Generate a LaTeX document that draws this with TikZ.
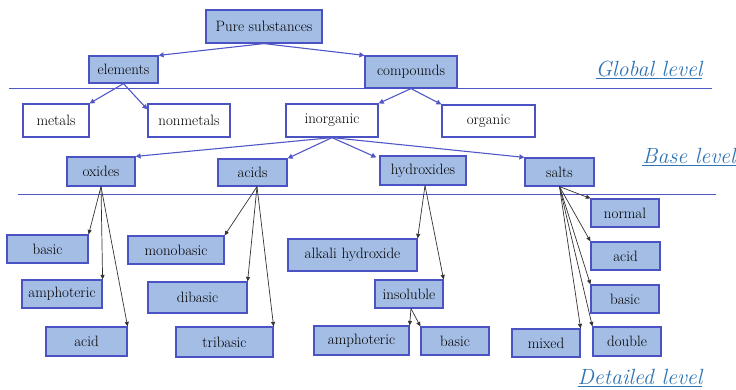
\documentclass[tikz,border=0pt]{standalone}
\usetikzlibrary{arrows.meta}
\definecolor{boxfill}{HTML}{A4BDE4}
\definecolor{boxline}{HTML}{4A52C4}
\definecolor{conn}{HTML}{5257C8}
\definecolor{lvl}{HTML}{2E74B5}
\begin{document}
\begin{tikzpicture}[x=1pt,y=-1pt,
  every node/.style={font=\rmfamily\fontsize{15}{18}\selectfont, inner sep=0pt},
  bbox/.style={draw=boxline, line width=1.2pt, fill=boxfill},
  wbox/.style={draw=boxline, line width=1.2pt, fill=white},
  bconn/.style={draw=conn, line width=1.1pt, -{Triangle[width=5pt,length=5pt]}},
  kconn/.style={draw=black!80, line width=0.7pt, -{Triangle[width=4pt,length=4.5pt]}},
  sep/.style={draw=conn, line width=1pt},
  lvltext/.style={text=lvl, font=\rmfamily\fontsize{22}{26}\selectfont\itshape}
]
\useasboundingbox (0,0) rectangle (736,389);
% separator lines
\coordinate (g1) at (9,88); \coordinate (g2) at (712,88);
\coordinate (b1) at (18,194); \coordinate (b2) at (716,194);
\draw[sep] (g1) -- (g2);
\draw[sep] (b1) -- (b2);
% level labels
\node[lvltext] (glob) at (649,70) {\underline{Global level}};
\node[lvltext] (base) at (689,157) {\underline{Base level}};
\node[lvltext] (det) at (640,378) {\underline{Detailed level}};
% boxes
\node[bbox, minimum width=116pt, minimum height=33pt] (pure) at (264,26.5) {Pure substances};
\node[bbox, minimum width=69pt, minimum height=27pt] (elem) at (123.5,69.5) {elements};
\node[bbox, minimum width=92pt, minimum height=32pt] (comp) at (411,72) {compounds};
\node[wbox, minimum width=66pt, minimum height=33pt] (metals) at (56,120.5) {metals};
\node[wbox, minimum width=82pt, minimum height=33pt] (nonmet) at (189,120.5) {nonmetals};
\node[wbox, minimum width=92pt, minimum height=33pt] (inorg) at (332,120.5) {inorganic};
\node[wbox, minimum width=93pt, minimum height=32pt] (org) at (488.5,121) {organic};
\node[bbox, minimum width=68pt, minimum height=29pt] (oxides) at (101,171.5) {oxides};
\node[bbox, minimum width=69pt, minimum height=27pt] (acids) at (252.5,172.5) {acids};
\node[bbox, minimum width=86pt, minimum height=29pt] (hydr) at (423,170.5) {hydroxides};
\node[bbox, minimum width=69pt, minimum height=28pt] (salts) at (559.5,172) {salts};
\node[bbox, minimum width=81pt, minimum height=28pt] (obasic) at (47.5,249) {basic};
\node[bbox, minimum width=80pt, minimum height=28pt] (oamph) at (62,294) {amphoteric};
\node[bbox, minimum width=81pt, minimum height=29pt] (oacid) at (86.5,341.5) {acid};
\node[bbox, minimum width=96pt, minimum height=28pt] (mono) at (176,250) {monobasic};
\node[bbox, minimum width=99pt, minimum height=31pt] (di) at (197.5,297.5) {dibasic};
\node[bbox, minimum width=97pt, minimum height=30pt] (tri) at (224.5,342) {tribasic};
\node[bbox, minimum width=129pt, minimum height=32pt] (alkali) at (352.5,255) {alkali hydroxide};
\node[bbox, minimum width=68pt, minimum height=28pt] (insol) at (409,294) {insoluble};
\node[bbox, minimum width=95pt, minimum height=29pt] (hamph) at (361.5,340.5) {amphoteric};
\node[bbox, minimum width=68pt, minimum height=28pt] (hbasic) at (455,341) {basic};
\node[bbox, minimum width=68pt, minimum height=28pt] (normal) at (625,213) {normal};
\node[bbox, minimum width=69pt, minimum height=28pt] (sacid) at (625.5,256) {acid};
\node[bbox, minimum width=68pt, minimum height=28pt] (sbasic) at (625,299) {basic};
\node[bbox, minimum width=68pt, minimum height=28pt] (mixed) at (546,343) {mixed};
\node[bbox, minimum width=68pt, minimum height=29pt] (double) at (627,341.5) {double};
% blue connectors
\draw[bconn] (pure.south) -- (elem.north east);
\draw[bconn] (pure.south) -- (comp.north west);
\draw[bconn] (elem.south) -- (metals.north east);
\draw[bconn] (elem.south) -- ([yshift=-6pt]nonmet.north west);
\draw[bconn] (comp.south) -- (inorg.north east);
\draw[bconn] (comp.south) -- (org.north west);
\draw[bconn] (inorg.south) -- (oxides.north east);
\draw[bconn] (inorg.south) -- (acids.north east);
\draw[bconn] (inorg.south) -- ([xshift=-3pt,yshift=-2pt]hydr.north west);
\draw[bconn] (inorg.south) -- (salts.north west);
% black connectors
\draw[kconn] (oxides.south) -- (obasic.north east);
\draw[kconn] (oxides.south) -- (oamph.north east);
\draw[kconn] (oxides.south) -- (oacid.north east);
\draw[kconn] ([xshift=4.5pt]acids.south) -- (mono.north east);
\draw[kconn] ([xshift=4.5pt]acids.south) -- (di.north east);
\draw[kconn] ([xshift=4.5pt]acids.south) -- (tri.north east);
\draw[kconn] ([xshift=2pt]hydr.south) -- (alkali.north east);
\draw[kconn] ([xshift=2pt]hydr.south) -- (insol.north east);
\draw[kconn] ([xshift=2pt]insol.south) -- (hamph.north east);
\draw[kconn] ([xshift=2pt]insol.south) -- (hbasic.north west);
\draw[kconn] (salts.south) -- (normal.north west);
\draw[kconn] (salts.south) -- (sacid.north west);
\draw[kconn] (salts.south) -- (sbasic.north west);
\draw[kconn] (salts.south) -- (mixed.north east);
\draw[kconn] (salts.south) -- (double.north west);
\end{tikzpicture}
\end{document}
